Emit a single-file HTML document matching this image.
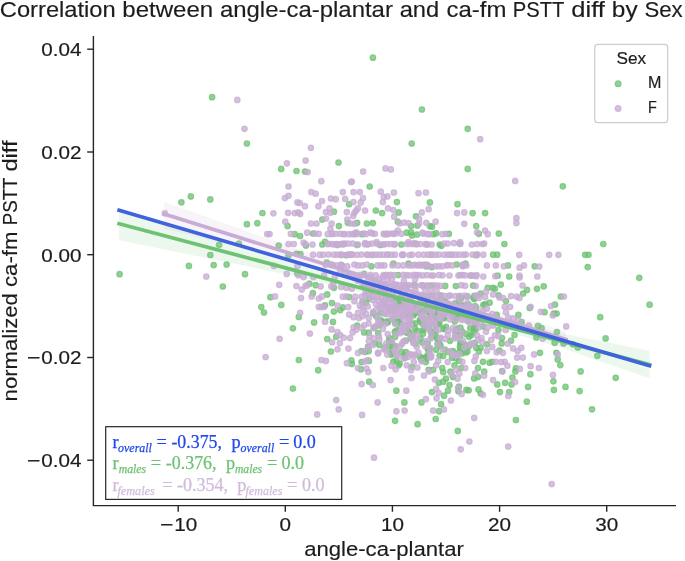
<!DOCTYPE html>
<html><head><meta charset="utf-8"><title>Correlation plot</title>
<style>html,body{margin:0;padding:0;background:#fff;}body{width:685px;height:561px;overflow:hidden;font-family:"Liberation Sans",sans-serif;}</style>
</head><body>
<svg width="685" height="561" viewBox="0 0 685 561" style="display:block;will-change:transform;transform:translateZ(0)">
<rect width="685" height="561" fill="#fff"/>
<polygon points="119.1,208.7 300,262 470,309 560,333 649.5,350.8 649.5,378.2 560,347.5 470,320.5 300,277 119.1,240.3" fill="#6ec273" fill-opacity="0.13"/>
<g fill="#6ec273" fill-opacity="0.75" stroke="#6ec273" stroke-opacity="0.75" stroke-width="1.2">
<circle cx="212.1" cy="97.2" r="2.75"/>
<circle cx="246.9" cy="143.5" r="2.75"/>
<circle cx="372.9" cy="57.7" r="2.75"/>
<circle cx="421.9" cy="109.5" r="2.75"/>
<circle cx="411.7" cy="143.5" r="2.75"/>
<circle cx="281.2" cy="168.9" r="2.75"/>
<circle cx="296.5" cy="171.0" r="2.75"/>
<circle cx="305.0" cy="171.6" r="2.75"/>
<circle cx="338.5" cy="162.5" r="2.75"/>
<circle cx="369.7" cy="186.5" r="2.75"/>
<circle cx="467.7" cy="128.8" r="2.75"/>
<circle cx="467.7" cy="168.9" r="2.75"/>
<circle cx="562.8" cy="186.3" r="2.75"/>
<circle cx="181.4" cy="202.3" r="2.75"/>
<circle cx="190.8" cy="196.4" r="2.75"/>
<circle cx="210.3" cy="199.4" r="2.75"/>
<circle cx="262.4" cy="213.0" r="2.75"/>
<circle cx="246.9" cy="224.2" r="2.75"/>
<circle cx="257.3" cy="223.2" r="2.75"/>
<circle cx="219.1" cy="244.8" r="2.75"/>
<circle cx="238.9" cy="243.5" r="2.75"/>
<circle cx="210.3" cy="255.0" r="2.75"/>
<circle cx="188.9" cy="265.9" r="2.75"/>
<circle cx="213.7" cy="265.1" r="2.75"/>
<circle cx="226.6" cy="264.6" r="2.75"/>
<circle cx="245.0" cy="274.2" r="2.75"/>
<circle cx="119.6" cy="274.2" r="2.75"/>
<circle cx="222.8" cy="286.5" r="2.75"/>
<circle cx="270.4" cy="297.2" r="2.75"/>
<circle cx="261.3" cy="307.1" r="2.75"/>
<circle cx="264.0" cy="312.5" r="2.75"/>
<circle cx="349.1" cy="204.2" r="2.75"/>
<circle cx="333.9" cy="211.7" r="2.75"/>
<circle cx="375.8" cy="210.5" r="2.75"/>
<circle cx="382.1" cy="213.1" r="2.75"/>
<circle cx="322.3" cy="219.6" r="2.75"/>
<circle cx="287.6" cy="226.1" r="2.75"/>
<circle cx="338.9" cy="226.1" r="2.75"/>
<circle cx="347.8" cy="222.8" r="2.75"/>
<circle cx="357.1" cy="222.8" r="2.75"/>
<circle cx="366.9" cy="223.5" r="2.75"/>
<circle cx="372.8" cy="223.1" r="2.75"/>
<circle cx="294.7" cy="234.2" r="2.75"/>
<circle cx="300.1" cy="236.0" r="2.75"/>
<circle cx="313.1" cy="233.5" r="2.75"/>
<circle cx="362.4" cy="234.2" r="2.75"/>
<circle cx="278.7" cy="245.6" r="2.75"/>
<circle cx="305.9" cy="245.6" r="2.75"/>
<circle cx="322.3" cy="244.5" r="2.75"/>
<circle cx="325.0" cy="241.8" r="2.75"/>
<circle cx="337.5" cy="244.9" r="2.75"/>
<circle cx="357.1" cy="244.9" r="2.75"/>
<circle cx="380.3" cy="244.9" r="2.75"/>
<circle cx="288.5" cy="255.2" r="2.75"/>
<circle cx="296.5" cy="253.8" r="2.75"/>
<circle cx="300.4" cy="254.1" r="2.75"/>
<circle cx="346.4" cy="255.2" r="2.75"/>
<circle cx="326.8" cy="262.7" r="2.75"/>
<circle cx="371.4" cy="266.3" r="2.75"/>
<circle cx="396.9" cy="202.1" r="2.75"/>
<circle cx="429.9" cy="202.4" r="2.75"/>
<circle cx="457.5" cy="204.2" r="2.75"/>
<circle cx="398.7" cy="212.4" r="2.75"/>
<circle cx="472.6" cy="213.1" r="2.75"/>
<circle cx="485.1" cy="213.1" r="2.75"/>
<circle cx="416.0" cy="216.3" r="2.75"/>
<circle cx="397.8" cy="221.7" r="2.75"/>
<circle cx="411.1" cy="226.1" r="2.75"/>
<circle cx="417.4" cy="225.6" r="2.75"/>
<circle cx="429.9" cy="226.1" r="2.75"/>
<circle cx="432.0" cy="226.7" r="2.75"/>
<circle cx="476.2" cy="226.1" r="2.75"/>
<circle cx="411.1" cy="232.4" r="2.75"/>
<circle cx="406.7" cy="232.7" r="2.75"/>
<circle cx="412.0" cy="235.6" r="2.75"/>
<circle cx="417.0" cy="234.5" r="2.75"/>
<circle cx="433.4" cy="234.2" r="2.75"/>
<circle cx="436.1" cy="233.3" r="2.75"/>
<circle cx="448.9" cy="233.8" r="2.75"/>
<circle cx="478.9" cy="233.8" r="2.75"/>
<circle cx="498.8" cy="233.6" r="2.75"/>
<circle cx="401.3" cy="244.5" r="2.75"/>
<circle cx="439.7" cy="244.5" r="2.75"/>
<circle cx="441.4" cy="245.8" r="2.75"/>
<circle cx="504.4" cy="244.0" r="2.75"/>
<circle cx="493.1" cy="254.7" r="2.75"/>
<circle cx="497.2" cy="254.7" r="2.75"/>
<circle cx="476.2" cy="255.2" r="2.75"/>
<circle cx="393.3" cy="263.6" r="2.75"/>
<circle cx="408.5" cy="263.6" r="2.75"/>
<circle cx="426.3" cy="266.3" r="2.75"/>
<circle cx="431.6" cy="267.1" r="2.75"/>
<circle cx="456.6" cy="264.5" r="2.75"/>
<circle cx="465.5" cy="263.6" r="2.75"/>
<circle cx="603.3" cy="244.0" r="2.75"/>
<circle cx="585.2" cy="254.8" r="2.75"/>
<circle cx="588.5" cy="254.8" r="2.75"/>
<circle cx="508.0" cy="265.4" r="2.75"/>
<circle cx="534.7" cy="266.3" r="2.75"/>
<circle cx="587.7" cy="267.1" r="2.75"/>
<circle cx="639.3" cy="277.8" r="2.75"/>
<circle cx="649.6" cy="304.7" r="2.75"/>
<circle cx="600.2" cy="317.2" r="2.75"/>
<circle cx="560.8" cy="296.5" r="2.75"/>
<circle cx="605.6" cy="338.4" r="2.75"/>
<circle cx="577.8" cy="347.5" r="2.75"/>
<circle cx="563.5" cy="343.4" r="2.75"/>
<circle cx="572.8" cy="344.3" r="2.75"/>
<circle cx="597.4" cy="355.8" r="2.75"/>
<circle cx="560.3" cy="365.1" r="2.75"/>
<circle cx="580.6" cy="371.4" r="2.75"/>
<circle cx="615.7" cy="377.8" r="2.75"/>
<circle cx="565.5" cy="386.9" r="2.75"/>
<circle cx="579.6" cy="391.1" r="2.75"/>
<circle cx="592.0" cy="409.3" r="2.75"/>
<circle cx="318.2" cy="370.2" r="2.75"/>
<circle cx="292.9" cy="388.5" r="2.75"/>
<circle cx="369.2" cy="381.7" r="2.75"/>
<circle cx="361.0" cy="369.3" r="2.75"/>
<circle cx="351.8" cy="363.9" r="2.75"/>
<circle cx="361.6" cy="362.1" r="2.75"/>
<circle cx="298.8" cy="360.0" r="2.75"/>
<circle cx="396.4" cy="390.7" r="2.75"/>
<circle cx="404.4" cy="402.4" r="2.75"/>
<circle cx="395.1" cy="420.8" r="2.75"/>
<circle cx="417.6" cy="424.2" r="2.75"/>
<circle cx="421.5" cy="402.4" r="2.75"/>
<circle cx="432.0" cy="392.1" r="2.75"/>
<circle cx="435.7" cy="419.0" r="2.75"/>
<circle cx="439.0" cy="411.2" r="2.75"/>
<circle cx="441.1" cy="404.2" r="2.75"/>
<circle cx="444.1" cy="395.7" r="2.75"/>
<circle cx="448.0" cy="390.7" r="2.75"/>
<circle cx="449.5" cy="385.0" r="2.75"/>
<circle cx="445.9" cy="378.7" r="2.75"/>
<circle cx="443.2" cy="381.7" r="2.75"/>
<circle cx="438.8" cy="382.8" r="2.75"/>
<circle cx="442.3" cy="368.0" r="2.75"/>
<circle cx="443.2" cy="372.1" r="2.75"/>
<circle cx="453.0" cy="376.9" r="2.75"/>
<circle cx="450.4" cy="371.6" r="2.75"/>
<circle cx="454.5" cy="365.3" r="2.75"/>
<circle cx="461.1" cy="368.0" r="2.75"/>
<circle cx="458.9" cy="386.7" r="2.75"/>
<circle cx="458.4" cy="391.2" r="2.75"/>
<circle cx="466.4" cy="389.9" r="2.75"/>
<circle cx="468.7" cy="390.3" r="2.75"/>
<circle cx="478.0" cy="368.0" r="2.75"/>
<circle cx="484.2" cy="371.6" r="2.75"/>
<circle cx="478.0" cy="376.9" r="2.75"/>
<circle cx="474.1" cy="378.4" r="2.75"/>
<circle cx="478.5" cy="389.4" r="2.75"/>
<circle cx="480.7" cy="393.5" r="2.75"/>
<circle cx="497.2" cy="384.4" r="2.75"/>
<circle cx="499.9" cy="392.1" r="2.75"/>
<circle cx="502.1" cy="371.1" r="2.75"/>
<circle cx="483.0" cy="361.8" r="2.75"/>
<circle cx="489.6" cy="362.7" r="2.75"/>
<circle cx="492.3" cy="361.8" r="2.75"/>
<circle cx="457.8" cy="430.9" r="2.75"/>
<circle cx="399.6" cy="363.6" r="2.75"/>
<circle cx="398.7" cy="365.3" r="2.75"/>
<circle cx="393.3" cy="361.8" r="2.75"/>
<circle cx="412.0" cy="367.1" r="2.75"/>
<circle cx="425.9" cy="362.1" r="2.75"/>
<circle cx="428.6" cy="369.8" r="2.75"/>
<circle cx="433.1" cy="369.8" r="2.75"/>
<circle cx="505.1" cy="382.8" r="2.75"/>
<circle cx="556.9" cy="332.1" r="2.75"/>
<circle cx="536.3" cy="337.5" r="2.75"/>
<circle cx="554.6" cy="342.8" r="2.75"/>
<circle cx="540.0" cy="352.8" r="2.75"/>
<circle cx="556.4" cy="352.8" r="2.75"/>
<circle cx="557.7" cy="359.4" r="2.75"/>
<circle cx="553.4" cy="381.3" r="2.75"/>
<circle cx="553.9" cy="389.9" r="2.75"/>
<circle cx="515.9" cy="420.0" r="2.75"/>
<circle cx="526.8" cy="401.7" r="2.75"/>
<circle cx="528.1" cy="386.9" r="2.75"/>
<circle cx="530.4" cy="374.2" r="2.75"/>
<circle cx="515.9" cy="368.3" r="2.75"/>
<circle cx="515.4" cy="371.4" r="2.75"/>
<circle cx="512.4" cy="377.6" r="2.75"/>
<circle cx="511.5" cy="384.4" r="2.75"/>
<circle cx="509.2" cy="392.0" r="2.75"/>
<circle cx="501.7" cy="343.4" r="2.75"/>
<circle cx="502.0" cy="338.0" r="2.75"/>
<circle cx="498.5" cy="330.0" r="2.75"/>
<circle cx="511.0" cy="340.7" r="2.75"/>
<circle cx="514.5" cy="335.0" r="2.75"/>
<circle cx="478.9" cy="351.4" r="2.75"/>
<circle cx="480.6" cy="347.8" r="2.75"/>
<circle cx="476.2" cy="347.8" r="2.75"/>
<circle cx="486.9" cy="344.3" r="2.75"/>
<circle cx="499.4" cy="350.5" r="2.75"/>
<circle cx="281.3" cy="304.9" r="2.75"/>
<circle cx="292.9" cy="328.3" r="2.75"/>
<circle cx="298.8" cy="316.9" r="2.75"/>
<circle cx="314.1" cy="322.4" r="2.75"/>
<circle cx="327.2" cy="339.0" r="2.75"/>
<circle cx="330.9" cy="351.5" r="2.75"/>
<circle cx="325.9" cy="316.9" r="2.75"/>
<circle cx="333.0" cy="321.9" r="2.75"/>
<circle cx="336.2" cy="336.8" r="2.75"/>
<circle cx="333.9" cy="311.5" r="2.75"/>
<circle cx="340.2" cy="310.1" r="2.75"/>
<circle cx="342.8" cy="307.4" r="2.75"/>
<circle cx="332.0" cy="303.0" r="2.75"/>
<circle cx="325.0" cy="305.3" r="2.75"/>
<circle cx="327.2" cy="294.4" r="2.75"/>
<circle cx="312.9" cy="293.2" r="2.75"/>
<circle cx="309.5" cy="283.7" r="2.75"/>
<circle cx="315.7" cy="285.2" r="2.75"/>
<circle cx="333.9" cy="287.8" r="2.75"/>
<circle cx="297.4" cy="273.6" r="2.75"/>
<circle cx="349.1" cy="297.1" r="2.75"/>
<circle cx="364.2" cy="286.0" r="2.75"/>
<circle cx="364.2" cy="273.9" r="2.75"/>
<circle cx="357.1" cy="325.6" r="2.75"/>
<circle cx="364.2" cy="332.4" r="2.75"/>
<circle cx="368.7" cy="332.7" r="2.75"/>
<circle cx="374.4" cy="327.4" r="2.75"/>
<circle cx="379.4" cy="344.9" r="2.75"/>
<circle cx="385.1" cy="347.5" r="2.75"/>
<circle cx="351.4" cy="360.4" r="2.75"/>
<circle cx="361.6" cy="351.1" r="2.75"/>
<circle cx="365.1" cy="352.0" r="2.75"/>
<circle cx="368.7" cy="351.1" r="2.75"/>
<circle cx="362.4" cy="302.1" r="2.75"/>
<circle cx="366.0" cy="303.0" r="2.75"/>
<circle cx="368.7" cy="298.5" r="2.75"/>
<circle cx="382.9" cy="321.7" r="2.75"/>
<circle cx="381.2" cy="312.8" r="2.75"/>
<circle cx="509.2" cy="276.5" r="2.75"/>
<circle cx="497.6" cy="275.7" r="2.75"/>
<circle cx="500.8" cy="284.6" r="2.75"/>
<circle cx="487.8" cy="287.8" r="2.75"/>
<circle cx="492.8" cy="287.8" r="2.75"/>
<circle cx="494.9" cy="288.7" r="2.75"/>
<circle cx="527.0" cy="289.9" r="2.75"/>
<circle cx="523.1" cy="293.5" r="2.75"/>
<circle cx="537.0" cy="288.8" r="2.75"/>
<circle cx="543.7" cy="286.3" r="2.75"/>
<circle cx="555.0" cy="304.5" r="2.75"/>
<circle cx="529.7" cy="307.9" r="2.75"/>
<circle cx="544.5" cy="312.2" r="2.75"/>
<circle cx="553.7" cy="313.6" r="2.75"/>
<circle cx="556.6" cy="313.6" r="2.75"/>
<circle cx="518.4" cy="314.9" r="2.75"/>
<circle cx="521.6" cy="322.0" r="2.75"/>
<circle cx="538.0" cy="325.9" r="2.75"/>
<circle cx="541.6" cy="328.2" r="2.75"/>
<circle cx="480.6" cy="293.5" r="2.75"/>
<circle cx="489.6" cy="302.7" r="2.75"/>
<circle cx="483.3" cy="305.1" r="2.75"/>
<circle cx="485.1" cy="304.2" r="2.75"/>
<circle cx="476.2" cy="307.4" r="2.75"/>
<circle cx="506.0" cy="301.0" r="2.75"/>
<circle cx="498.5" cy="295.3" r="2.75"/>
<circle cx="496.7" cy="314.9" r="2.75"/>
<circle cx="483.3" cy="326.5" r="2.75"/>
<circle cx="398.2" cy="275.0" r="2.75"/>
<circle cx="471.4" cy="275.6" r="2.75"/>
<circle cx="406.8" cy="285.9" r="2.75"/>
<circle cx="414.6" cy="285.0" r="2.75"/>
<circle cx="422.9" cy="285.7" r="2.75"/>
<circle cx="431.3" cy="285.6" r="2.75"/>
<circle cx="445.2" cy="285.9" r="2.75"/>
<circle cx="455.9" cy="286.0" r="2.75"/>
<circle cx="473.1" cy="285.6" r="2.75"/>
<circle cx="401.9" cy="295.5" r="2.75"/>
<circle cx="414.0" cy="295.1" r="2.75"/>
<circle cx="420.1" cy="296.2" r="2.75"/>
<circle cx="430.7" cy="295.8" r="2.75"/>
<circle cx="440.5" cy="295.4" r="2.75"/>
<circle cx="459.2" cy="296.6" r="2.75"/>
<circle cx="467.3" cy="296.6" r="2.75"/>
<circle cx="474.3" cy="295.9" r="2.75"/>
<circle cx="405.0" cy="306.1" r="2.75"/>
<circle cx="409.4" cy="306.0" r="2.75"/>
<circle cx="416.1" cy="305.7" r="2.75"/>
<circle cx="427.6" cy="306.8" r="2.75"/>
<circle cx="449.5" cy="307.1" r="2.75"/>
<circle cx="458.6" cy="305.7" r="2.75"/>
<circle cx="464.4" cy="305.7" r="2.75"/>
<circle cx="475.0" cy="306.1" r="2.75"/>
<circle cx="425.4" cy="296.3" r="2.75"/>
<circle cx="406.7" cy="329.5" r="2.75"/>
<circle cx="391.1" cy="342.2" r="2.75"/>
<circle cx="470.3" cy="328.2" r="2.75"/>
<circle cx="417.3" cy="330.9" r="2.75"/>
<circle cx="471.9" cy="310.5" r="2.75"/>
<circle cx="423.1" cy="330.0" r="2.75"/>
<circle cx="413.6" cy="314.2" r="2.75"/>
<circle cx="401.7" cy="304.9" r="2.75"/>
<circle cx="458.6" cy="305.6" r="2.75"/>
<circle cx="468.2" cy="321.3" r="2.75"/>
<circle cx="456.0" cy="330.2" r="2.75"/>
<circle cx="468.7" cy="346.5" r="2.75"/>
<circle cx="452.9" cy="351.1" r="2.75"/>
<circle cx="396.6" cy="330.5" r="2.75"/>
<circle cx="405.1" cy="328.8" r="2.75"/>
<circle cx="461.5" cy="353.5" r="2.75"/>
<circle cx="431.2" cy="313.3" r="2.75"/>
<circle cx="428.7" cy="312.3" r="2.75"/>
<circle cx="405.2" cy="357.8" r="2.75"/>
<circle cx="389.2" cy="338.1" r="2.75"/>
<circle cx="425.3" cy="358.1" r="2.75"/>
<circle cx="387.7" cy="322.4" r="2.75"/>
<circle cx="456.0" cy="335.6" r="2.75"/>
<circle cx="432.3" cy="309.1" r="2.75"/>
<circle cx="408.6" cy="331.6" r="2.75"/>
<circle cx="409.6" cy="316.2" r="2.75"/>
<circle cx="424.2" cy="296.8" r="2.75"/>
<circle cx="458.7" cy="311.5" r="2.75"/>
<circle cx="387.9" cy="346.2" r="2.75"/>
<circle cx="442.9" cy="303.1" r="2.75"/>
<circle cx="470.9" cy="344.0" r="2.75"/>
<circle cx="393.1" cy="318.9" r="2.75"/>
<circle cx="415.7" cy="344.0" r="2.75"/>
<circle cx="446.0" cy="326.9" r="2.75"/>
<circle cx="439.6" cy="355.5" r="2.75"/>
<circle cx="424.2" cy="328.4" r="2.75"/>
<circle cx="422.5" cy="323.2" r="2.75"/>
<circle cx="460.1" cy="335.5" r="2.75"/>
<circle cx="407.5" cy="325.8" r="2.75"/>
<circle cx="387.6" cy="321.4" r="2.75"/>
<circle cx="457.2" cy="328.5" r="2.75"/>
<circle cx="422.9" cy="333.8" r="2.75"/>
<circle cx="455.8" cy="358.3" r="2.75"/>
<circle cx="404.3" cy="355.2" r="2.75"/>
<circle cx="466.0" cy="346.3" r="2.75"/>
<circle cx="475.8" cy="329.6" r="2.75"/>
<circle cx="436.7" cy="321.3" r="2.75"/>
<circle cx="425.3" cy="318.8" r="2.75"/>
<circle cx="435.6" cy="330.1" r="2.75"/>
<circle cx="397.8" cy="322.1" r="2.75"/>
<circle cx="411.8" cy="324.6" r="2.75"/>
<circle cx="475.5" cy="318.3" r="2.75"/>
<circle cx="453.0" cy="307.1" r="2.75"/>
<circle cx="403.6" cy="306.2" r="2.75"/>
<circle cx="415.0" cy="328.8" r="2.75"/>
<circle cx="389.3" cy="340.9" r="2.75"/>
<circle cx="434.5" cy="308.8" r="2.75"/>
<circle cx="420.2" cy="313.3" r="2.75"/>
<circle cx="402.4" cy="303.9" r="2.75"/>
<circle cx="445.9" cy="302.9" r="2.75"/>
<circle cx="427.6" cy="348.4" r="2.75"/>
<circle cx="440.4" cy="319.0" r="2.75"/>
<circle cx="423.8" cy="318.7" r="2.75"/>
<circle cx="423.8" cy="358.4" r="2.75"/>
<circle cx="428.5" cy="312.2" r="2.75"/>
<circle cx="467.4" cy="351.6" r="2.75"/>
<circle cx="463.4" cy="349.0" r="2.75"/>
<circle cx="426.3" cy="358.4" r="2.75"/>
<circle cx="469.7" cy="311.8" r="2.75"/>
<circle cx="440.8" cy="310.4" r="2.75"/>
<circle cx="460.4" cy="327.5" r="2.75"/>
<circle cx="421.2" cy="303.5" r="2.75"/>
<circle cx="399.2" cy="322.2" r="2.75"/>
<circle cx="451.6" cy="306.3" r="2.75"/>
<circle cx="379.4" cy="325.4" r="2.75"/>
<circle cx="439.3" cy="312.9" r="2.75"/>
<circle cx="424.4" cy="319.9" r="2.75"/>
<circle cx="427.0" cy="309.8" r="2.75"/>
<circle cx="433.2" cy="332.9" r="2.75"/>
<circle cx="399.7" cy="301.6" r="2.75"/>
<circle cx="457.4" cy="316.9" r="2.75"/>
<circle cx="413.5" cy="315.3" r="2.75"/>
<circle cx="389.9" cy="310.7" r="2.75"/>
<circle cx="440.6" cy="314.4" r="2.75"/>
<circle cx="458.7" cy="304.6" r="2.75"/>
<circle cx="394.9" cy="322.8" r="2.75"/>
<circle cx="438.4" cy="312.1" r="2.75"/>
<circle cx="395.0" cy="336.9" r="2.75"/>
<circle cx="440.1" cy="298.6" r="2.75"/>
<circle cx="398.6" cy="298.6" r="2.75"/>
<circle cx="430.8" cy="307.7" r="2.75"/>
<circle cx="422.3" cy="342.6" r="2.75"/>
<circle cx="405.4" cy="340.5" r="2.75"/>
<circle cx="426.9" cy="299.1" r="2.75"/>
<circle cx="465.3" cy="344.7" r="2.75"/>
<circle cx="437.8" cy="321.6" r="2.75"/>
<circle cx="454.6" cy="314.3" r="2.75"/>
<circle cx="437.5" cy="344.0" r="2.75"/>
<circle cx="429.5" cy="325.4" r="2.75"/>
<circle cx="438.3" cy="323.8" r="2.75"/>
<circle cx="430.7" cy="331.4" r="2.75"/>
<circle cx="376.2" cy="316.2" r="2.75"/>
<circle cx="439.4" cy="339.6" r="2.75"/>
<circle cx="468.0" cy="318.8" r="2.75"/>
<circle cx="461.6" cy="305.2" r="2.75"/>
<circle cx="392.7" cy="349.0" r="2.75"/>
<circle cx="446.1" cy="307.0" r="2.75"/>
<circle cx="425.8" cy="326.0" r="2.75"/>
<circle cx="454.9" cy="303.4" r="2.75"/>
<circle cx="396.1" cy="309.4" r="2.75"/>
<circle cx="407.0" cy="303.3" r="2.75"/>
<circle cx="409.6" cy="319.6" r="2.75"/>
<circle cx="473.5" cy="332.6" r="2.75"/>
<circle cx="412.1" cy="324.2" r="2.75"/>
<circle cx="431.6" cy="336.8" r="2.75"/>
<circle cx="432.6" cy="312.3" r="2.75"/>
<circle cx="455.9" cy="315.3" r="2.75"/>
<circle cx="443.8" cy="317.2" r="2.75"/>
<circle cx="454.2" cy="316.8" r="2.75"/>
<circle cx="419.9" cy="320.0" r="2.75"/>
<circle cx="429.5" cy="349.3" r="2.75"/>
<circle cx="413.4" cy="306.2" r="2.75"/>
<circle cx="423.6" cy="301.2" r="2.75"/>
<circle cx="374.9" cy="343.0" r="2.75"/>
<circle cx="404.2" cy="314.4" r="2.75"/>
<circle cx="415.3" cy="323.4" r="2.75"/>
<circle cx="464.0" cy="306.7" r="2.75"/>
<circle cx="406.4" cy="332.6" r="2.75"/>
<circle cx="428.5" cy="348.7" r="2.75"/>
<circle cx="435.6" cy="335.6" r="2.75"/>
<circle cx="422.4" cy="357.9" r="2.75"/>
<circle cx="431.9" cy="315.5" r="2.75"/>
<circle cx="461.6" cy="297.8" r="2.75"/>
<circle cx="435.8" cy="325.1" r="2.75"/>
<circle cx="433.6" cy="320.2" r="2.75"/>
<circle cx="403.0" cy="330.4" r="2.75"/>
<circle cx="400.5" cy="303.4" r="2.75"/>
<circle cx="462.2" cy="331.6" r="2.75"/>
<circle cx="458.8" cy="312.5" r="2.75"/>
<circle cx="417.3" cy="312.4" r="2.75"/>
<circle cx="420.3" cy="310.7" r="2.75"/>
<circle cx="405.9" cy="352.1" r="2.75"/>
<circle cx="440.3" cy="345.2" r="2.75"/>
<circle cx="474.8" cy="342.9" r="2.75"/>
<circle cx="454.8" cy="321.5" r="2.75"/>
<circle cx="368.1" cy="346.5" r="2.75"/>
<circle cx="380.6" cy="320.2" r="2.75"/>
<circle cx="425.3" cy="309.9" r="2.75"/>
<circle cx="439.4" cy="323.7" r="2.75"/>
<circle cx="428.6" cy="352.7" r="2.75"/>
<circle cx="465.7" cy="352.6" r="2.75"/>
<circle cx="444.2" cy="318.2" r="2.75"/>
<circle cx="436.1" cy="349.7" r="2.75"/>
<circle cx="441.2" cy="298.8" r="2.75"/>
<circle cx="455.8" cy="333.8" r="2.75"/>
<circle cx="436.9" cy="320.8" r="2.75"/>
<circle cx="460.4" cy="331.0" r="2.75"/>
<circle cx="452.0" cy="357.7" r="2.75"/>
<circle cx="393.8" cy="305.8" r="2.75"/>
<circle cx="460.1" cy="348.0" r="2.75"/>
<circle cx="400.1" cy="326.9" r="2.75"/>
<circle cx="427.4" cy="300.9" r="2.75"/>
<circle cx="409.5" cy="333.5" r="2.75"/>
<circle cx="392.7" cy="297.3" r="2.75"/>
<circle cx="474.3" cy="298.9" r="2.75"/>
<circle cx="434.9" cy="313.7" r="2.75"/>
<circle cx="413.5" cy="313.0" r="2.75"/>
<circle cx="460.0" cy="346.3" r="2.75"/>
<circle cx="430.3" cy="319.6" r="2.75"/>
<circle cx="436.2" cy="315.8" r="2.75"/>
<circle cx="443.4" cy="329.1" r="2.75"/>
<circle cx="394.8" cy="331.8" r="2.75"/>
<circle cx="474.6" cy="327.3" r="2.75"/>
<circle cx="407.6" cy="325.0" r="2.75"/>
<circle cx="388.8" cy="307.0" r="2.75"/>
<circle cx="419.9" cy="356.9" r="2.75"/>
<circle cx="466.2" cy="333.9" r="2.75"/>
<circle cx="395.6" cy="346.3" r="2.75"/>
<circle cx="459.5" cy="300.4" r="2.75"/>
<circle cx="463.4" cy="313.9" r="2.75"/>
<circle cx="439.0" cy="310.2" r="2.75"/>
<circle cx="432.0" cy="308.8" r="2.75"/>
<circle cx="471.4" cy="335.1" r="2.75"/>
<circle cx="452.2" cy="352.9" r="2.75"/>
<circle cx="432.1" cy="322.3" r="2.75"/>
<circle cx="393.2" cy="299.7" r="2.75"/>
<circle cx="412.8" cy="334.9" r="2.75"/>
<circle cx="421.5" cy="360.2" r="2.75"/>
<circle cx="427.7" cy="343.1" r="2.75"/>
<circle cx="403.9" cy="331.0" r="2.75"/>
<circle cx="420.4" cy="338.7" r="2.75"/>
<circle cx="392.4" cy="344.2" r="2.75"/>
<circle cx="439.9" cy="345.6" r="2.75"/>
<circle cx="407.6" cy="314.1" r="2.75"/>
<circle cx="468.6" cy="304.6" r="2.75"/>
<circle cx="410.5" cy="338.6" r="2.75"/>
<circle cx="396.3" cy="360.3" r="2.75"/>
<circle cx="445.6" cy="301.8" r="2.75"/>
<circle cx="396.7" cy="305.7" r="2.75"/>
<circle cx="443.2" cy="355.9" r="2.75"/>
<circle cx="473.8" cy="328.4" r="2.75"/>
<circle cx="394.0" cy="348.0" r="2.75"/>
<circle cx="391.5" cy="354.7" r="2.75"/>
<circle cx="442.7" cy="300.3" r="2.75"/>
<circle cx="401.2" cy="352.2" r="2.75"/>
<circle cx="421.5" cy="322.6" r="2.75"/>
<circle cx="469.1" cy="336.8" r="2.75"/>
<circle cx="378.1" cy="333.0" r="2.75"/>
<circle cx="458.9" cy="352.5" r="2.75"/>
<circle cx="444.9" cy="349.5" r="2.75"/>
<circle cx="448.5" cy="352.1" r="2.75"/>
<circle cx="459.0" cy="360.7" r="2.75"/>
<circle cx="443.0" cy="302.3" r="2.75"/>
<circle cx="436.3" cy="301.9" r="2.75"/>
<circle cx="473.5" cy="298.1" r="2.75"/>
<circle cx="450.0" cy="340.8" r="2.75"/>
<circle cx="414.1" cy="311.1" r="2.75"/>
<circle cx="390.6" cy="353.1" r="2.75"/>
<circle cx="411.9" cy="304.8" r="2.75"/>
<circle cx="443.3" cy="328.5" r="2.75"/>
<circle cx="461.4" cy="343.5" r="2.75"/>
<circle cx="373.2" cy="313.2" r="2.75"/>
<circle cx="420.6" cy="319.6" r="2.75"/>
<circle cx="437.0" cy="338.5" r="2.75"/>
<circle cx="460.3" cy="342.7" r="2.75"/>
<circle cx="399.4" cy="321.1" r="2.75"/>
<circle cx="368.9" cy="360.9" r="2.75"/>
<circle cx="427.0" cy="356.2" r="2.75"/>
<circle cx="427.4" cy="320.5" r="2.75"/>
</g>
<polygon points="164.3,202 300,250 420,289 566,331 566,346 420,297 300,262 164.3,228.8" fill="#c7acd3" fill-opacity="0.13"/>
<g fill="#c7acd3" fill-opacity="0.75" stroke="#c7acd3" stroke-opacity="0.75" stroke-width="1.2">
<circle cx="237.3" cy="99.9" r="2.75"/>
<circle cx="244.5" cy="128.8" r="2.75"/>
<circle cx="310.9" cy="147.8" r="2.75"/>
<circle cx="286.9" cy="163.3" r="2.75"/>
<circle cx="305.6" cy="160.6" r="2.75"/>
<circle cx="307.7" cy="172.1" r="2.75"/>
<circle cx="363.1" cy="171.6" r="2.75"/>
<circle cx="385.5" cy="168.4" r="2.75"/>
<circle cx="390.9" cy="169.4" r="2.75"/>
<circle cx="321.3" cy="181.2" r="2.75"/>
<circle cx="351.8" cy="181.5" r="2.75"/>
<circle cx="351.0" cy="182.0" r="2.75"/>
<circle cx="288.5" cy="186.5" r="2.75"/>
<circle cx="480.2" cy="139.2" r="2.75"/>
<circle cx="515.2" cy="180.9" r="2.75"/>
<circle cx="164.8" cy="213.3" r="2.75"/>
<circle cx="273.4" cy="213.3" r="2.75"/>
<circle cx="267.2" cy="234.1" r="2.75"/>
<circle cx="269.6" cy="234.1" r="2.75"/>
<circle cx="206.3" cy="276.6" r="2.75"/>
<circle cx="273.9" cy="265.9" r="2.75"/>
<circle cx="275.0" cy="296.4" r="2.75"/>
<circle cx="265.6" cy="357.0" r="2.75"/>
<circle cx="311.3" cy="192.1" r="2.75"/>
<circle cx="315.6" cy="193.7" r="2.75"/>
<circle cx="342.8" cy="192.1" r="2.75"/>
<circle cx="353.5" cy="192.1" r="2.75"/>
<circle cx="359.8" cy="192.1" r="2.75"/>
<circle cx="380.8" cy="191.7" r="2.75"/>
<circle cx="288.5" cy="195.8" r="2.75"/>
<circle cx="284.9" cy="198.0" r="2.75"/>
<circle cx="330.9" cy="198.5" r="2.75"/>
<circle cx="335.7" cy="199.2" r="2.75"/>
<circle cx="345.2" cy="198.9" r="2.75"/>
<circle cx="363.0" cy="198.2" r="2.75"/>
<circle cx="383.8" cy="197.1" r="2.75"/>
<circle cx="322.0" cy="201.0" r="2.75"/>
<circle cx="353.5" cy="202.1" r="2.75"/>
<circle cx="360.7" cy="202.4" r="2.75"/>
<circle cx="382.9" cy="202.1" r="2.75"/>
<circle cx="297.4" cy="202.4" r="2.75"/>
<circle cx="299.7" cy="203.0" r="2.75"/>
<circle cx="304.9" cy="206.2" r="2.75"/>
<circle cx="318.4" cy="206.2" r="2.75"/>
<circle cx="329.5" cy="208.3" r="2.75"/>
<circle cx="358.0" cy="208.3" r="2.75"/>
<circle cx="356.2" cy="210.6" r="2.75"/>
<circle cx="365.1" cy="210.6" r="2.75"/>
<circle cx="325.9" cy="212.1" r="2.75"/>
<circle cx="330.4" cy="212.8" r="2.75"/>
<circle cx="346.8" cy="212.1" r="2.75"/>
<circle cx="354.4" cy="212.8" r="2.75"/>
<circle cx="288.1" cy="212.8" r="2.75"/>
<circle cx="294.7" cy="213.1" r="2.75"/>
<circle cx="298.3" cy="212.4" r="2.75"/>
<circle cx="300.2" cy="213.9" r="2.75"/>
<circle cx="353.2" cy="216.0" r="2.75"/>
<circle cx="325.9" cy="218.5" r="2.75"/>
<circle cx="347.3" cy="219.6" r="2.75"/>
<circle cx="285.3" cy="221.7" r="2.75"/>
<circle cx="310.9" cy="223.5" r="2.75"/>
<circle cx="316.5" cy="223.5" r="2.75"/>
<circle cx="331.6" cy="223.5" r="2.75"/>
<circle cx="350.9" cy="223.5" r="2.75"/>
<circle cx="354.4" cy="223.8" r="2.75"/>
<circle cx="330.4" cy="228.8" r="2.75"/>
<circle cx="290.8" cy="233.8" r="2.75"/>
<circle cx="307.2" cy="232.7" r="2.75"/>
<circle cx="314.9" cy="233.5" r="2.75"/>
<circle cx="318.8" cy="233.8" r="2.75"/>
<circle cx="327.7" cy="234.2" r="2.75"/>
<circle cx="332.1" cy="233.8" r="2.75"/>
<circle cx="335.7" cy="233.8" r="2.75"/>
<circle cx="340.2" cy="233.8" r="2.75"/>
<circle cx="344.6" cy="234.2" r="2.75"/>
<circle cx="349.1" cy="234.2" r="2.75"/>
<circle cx="356.2" cy="232.4" r="2.75"/>
<circle cx="358.0" cy="233.8" r="2.75"/>
<circle cx="364.2" cy="233.5" r="2.75"/>
<circle cx="370.5" cy="232.4" r="2.75"/>
<circle cx="372.3" cy="233.5" r="2.75"/>
<circle cx="374.9" cy="233.8" r="2.75"/>
<circle cx="384.4" cy="234.2" r="2.75"/>
<circle cx="288.5" cy="244.0" r="2.75"/>
<circle cx="293.8" cy="244.0" r="2.75"/>
<circle cx="303.6" cy="242.7" r="2.75"/>
<circle cx="305.4" cy="244.0" r="2.75"/>
<circle cx="312.5" cy="244.5" r="2.75"/>
<circle cx="327.7" cy="244.0" r="2.75"/>
<circle cx="332.1" cy="244.0" r="2.75"/>
<circle cx="336.6" cy="244.0" r="2.75"/>
<circle cx="341.1" cy="244.0" r="2.75"/>
<circle cx="344.6" cy="243.6" r="2.75"/>
<circle cx="348.2" cy="243.6" r="2.75"/>
<circle cx="352.6" cy="243.6" r="2.75"/>
<circle cx="358.0" cy="244.5" r="2.75"/>
<circle cx="365.1" cy="243.1" r="2.75"/>
<circle cx="372.3" cy="243.6" r="2.75"/>
<circle cx="376.7" cy="242.2" r="2.75"/>
<circle cx="377.6" cy="244.0" r="2.75"/>
<circle cx="382.9" cy="244.5" r="2.75"/>
<circle cx="313.1" cy="254.7" r="2.75"/>
<circle cx="319.7" cy="254.7" r="2.75"/>
<circle cx="323.2" cy="254.7" r="2.75"/>
<circle cx="333.9" cy="254.7" r="2.75"/>
<circle cx="337.5" cy="254.7" r="2.75"/>
<circle cx="341.1" cy="254.7" r="2.75"/>
<circle cx="349.1" cy="254.7" r="2.75"/>
<circle cx="352.6" cy="254.7" r="2.75"/>
<circle cx="366.9" cy="254.7" r="2.75"/>
<circle cx="372.3" cy="254.7" r="2.75"/>
<circle cx="375.8" cy="254.7" r="2.75"/>
<circle cx="379.4" cy="254.7" r="2.75"/>
<circle cx="382.9" cy="254.7" r="2.75"/>
<circle cx="297.4" cy="266.3" r="2.75"/>
<circle cx="331.3" cy="264.5" r="2.75"/>
<circle cx="336.6" cy="265.4" r="2.75"/>
<circle cx="341.9" cy="265.4" r="2.75"/>
<circle cx="347.3" cy="266.3" r="2.75"/>
<circle cx="354.4" cy="264.5" r="2.75"/>
<circle cx="358.0" cy="265.4" r="2.75"/>
<circle cx="362.4" cy="265.4" r="2.75"/>
<circle cx="366.9" cy="264.5" r="2.75"/>
<circle cx="377.6" cy="265.4" r="2.75"/>
<circle cx="381.2" cy="265.4" r="2.75"/>
<circle cx="384.4" cy="265.4" r="2.75"/>
<circle cx="393.9" cy="192.5" r="2.75"/>
<circle cx="387.4" cy="196.4" r="2.75"/>
<circle cx="418.5" cy="193.2" r="2.75"/>
<circle cx="425.9" cy="192.5" r="2.75"/>
<circle cx="388.0" cy="208.3" r="2.75"/>
<circle cx="393.3" cy="210.1" r="2.75"/>
<circle cx="428.6" cy="209.2" r="2.75"/>
<circle cx="421.8" cy="212.4" r="2.75"/>
<circle cx="394.2" cy="216.7" r="2.75"/>
<circle cx="457.1" cy="213.1" r="2.75"/>
<circle cx="464.3" cy="212.4" r="2.75"/>
<circle cx="419.2" cy="219.0" r="2.75"/>
<circle cx="435.6" cy="221.7" r="2.75"/>
<circle cx="426.3" cy="222.8" r="2.75"/>
<circle cx="419.2" cy="223.5" r="2.75"/>
<circle cx="404.0" cy="222.6" r="2.75"/>
<circle cx="408.5" cy="223.1" r="2.75"/>
<circle cx="399.6" cy="223.5" r="2.75"/>
<circle cx="464.3" cy="223.8" r="2.75"/>
<circle cx="485.1" cy="230.6" r="2.75"/>
<circle cx="487.8" cy="234.2" r="2.75"/>
<circle cx="477.1" cy="232.4" r="2.75"/>
<circle cx="388.0" cy="233.8" r="2.75"/>
<circle cx="396.0" cy="233.3" r="2.75"/>
<circle cx="397.8" cy="230.6" r="2.75"/>
<circle cx="401.3" cy="233.8" r="2.75"/>
<circle cx="422.4" cy="232.7" r="2.75"/>
<circle cx="429.0" cy="234.2" r="2.75"/>
<circle cx="442.3" cy="234.2" r="2.75"/>
<circle cx="445.9" cy="233.8" r="2.75"/>
<circle cx="387.1" cy="244.0" r="2.75"/>
<circle cx="390.6" cy="244.0" r="2.75"/>
<circle cx="394.2" cy="244.5" r="2.75"/>
<circle cx="406.7" cy="244.0" r="2.75"/>
<circle cx="408.5" cy="242.2" r="2.75"/>
<circle cx="414.7" cy="243.1" r="2.75"/>
<circle cx="420.1" cy="244.0" r="2.75"/>
<circle cx="427.2" cy="244.5" r="2.75"/>
<circle cx="431.6" cy="244.5" r="2.75"/>
<circle cx="444.1" cy="243.6" r="2.75"/>
<circle cx="447.7" cy="243.6" r="2.75"/>
<circle cx="453.9" cy="243.1" r="2.75"/>
<circle cx="459.3" cy="243.6" r="2.75"/>
<circle cx="460.2" cy="242.2" r="2.75"/>
<circle cx="471.8" cy="244.5" r="2.75"/>
<circle cx="477.1" cy="244.0" r="2.75"/>
<circle cx="482.4" cy="244.0" r="2.75"/>
<circle cx="484.2" cy="243.6" r="2.75"/>
<circle cx="387.1" cy="254.7" r="2.75"/>
<circle cx="391.5" cy="254.7" r="2.75"/>
<circle cx="395.1" cy="254.7" r="2.75"/>
<circle cx="402.2" cy="254.7" r="2.75"/>
<circle cx="412.0" cy="254.7" r="2.75"/>
<circle cx="418.3" cy="254.7" r="2.75"/>
<circle cx="423.6" cy="254.7" r="2.75"/>
<circle cx="428.1" cy="254.7" r="2.75"/>
<circle cx="431.6" cy="254.7" r="2.75"/>
<circle cx="435.2" cy="254.7" r="2.75"/>
<circle cx="438.8" cy="254.7" r="2.75"/>
<circle cx="444.1" cy="254.7" r="2.75"/>
<circle cx="447.7" cy="254.7" r="2.75"/>
<circle cx="452.1" cy="254.7" r="2.75"/>
<circle cx="455.7" cy="254.7" r="2.75"/>
<circle cx="459.3" cy="254.7" r="2.75"/>
<circle cx="463.7" cy="254.7" r="2.75"/>
<circle cx="472.6" cy="254.7" r="2.75"/>
<circle cx="477.1" cy="254.7" r="2.75"/>
<circle cx="483.3" cy="254.7" r="2.75"/>
<circle cx="392.4" cy="265.4" r="2.75"/>
<circle cx="397.8" cy="265.4" r="2.75"/>
<circle cx="403.1" cy="265.4" r="2.75"/>
<circle cx="408.5" cy="265.4" r="2.75"/>
<circle cx="412.0" cy="265.4" r="2.75"/>
<circle cx="417.4" cy="265.4" r="2.75"/>
<circle cx="421.0" cy="265.4" r="2.75"/>
<circle cx="429.0" cy="266.3" r="2.75"/>
<circle cx="435.2" cy="266.3" r="2.75"/>
<circle cx="438.8" cy="266.3" r="2.75"/>
<circle cx="442.3" cy="266.3" r="2.75"/>
<circle cx="446.8" cy="265.4" r="2.75"/>
<circle cx="452.1" cy="265.4" r="2.75"/>
<circle cx="462.8" cy="266.3" r="2.75"/>
<circle cx="466.4" cy="265.4" r="2.75"/>
<circle cx="486.9" cy="265.4" r="2.75"/>
<circle cx="495.8" cy="265.4" r="2.75"/>
<circle cx="503.8" cy="266.3" r="2.75"/>
<circle cx="516.4" cy="218.1" r="2.75"/>
<circle cx="516.4" cy="222.9" r="2.75"/>
<circle cx="519.2" cy="254.8" r="2.75"/>
<circle cx="549.2" cy="254.8" r="2.75"/>
<circle cx="558.4" cy="254.8" r="2.75"/>
<circle cx="524.0" cy="265.4" r="2.75"/>
<circle cx="519.6" cy="267.7" r="2.75"/>
<circle cx="539.2" cy="266.6" r="2.75"/>
<circle cx="563.9" cy="296.5" r="2.75"/>
<circle cx="566.2" cy="326.4" r="2.75"/>
<circle cx="325.9" cy="360.9" r="2.75"/>
<circle cx="321.4" cy="360.0" r="2.75"/>
<circle cx="346.9" cy="363.2" r="2.75"/>
<circle cx="358.0" cy="368.0" r="2.75"/>
<circle cx="366.5" cy="368.6" r="2.75"/>
<circle cx="368.3" cy="372.1" r="2.75"/>
<circle cx="383.3" cy="368.0" r="2.75"/>
<circle cx="364.8" cy="361.4" r="2.75"/>
<circle cx="367.8" cy="360.0" r="2.75"/>
<circle cx="361.6" cy="384.1" r="2.75"/>
<circle cx="372.8" cy="385.0" r="2.75"/>
<circle cx="336.2" cy="400.1" r="2.75"/>
<circle cx="338.7" cy="409.4" r="2.75"/>
<circle cx="317.2" cy="414.4" r="2.75"/>
<circle cx="362.1" cy="414.9" r="2.75"/>
<circle cx="377.6" cy="402.4" r="2.75"/>
<circle cx="374.0" cy="457.7" r="2.75"/>
<circle cx="390.6" cy="380.1" r="2.75"/>
<circle cx="406.3" cy="390.7" r="2.75"/>
<circle cx="396.4" cy="411.3" r="2.75"/>
<circle cx="404.6" cy="410.6" r="2.75"/>
<circle cx="411.5" cy="378.0" r="2.75"/>
<circle cx="395.6" cy="369.3" r="2.75"/>
<circle cx="391.5" cy="365.7" r="2.75"/>
<circle cx="406.7" cy="365.3" r="2.75"/>
<circle cx="411.1" cy="370.3" r="2.75"/>
<circle cx="417.4" cy="367.5" r="2.75"/>
<circle cx="413.8" cy="362.1" r="2.75"/>
<circle cx="421.8" cy="361.4" r="2.75"/>
<circle cx="424.0" cy="375.5" r="2.75"/>
<circle cx="429.0" cy="371.6" r="2.75"/>
<circle cx="434.9" cy="379.6" r="2.75"/>
<circle cx="436.1" cy="365.3" r="2.75"/>
<circle cx="438.2" cy="360.9" r="2.75"/>
<circle cx="436.1" cy="388.9" r="2.75"/>
<circle cx="438.8" cy="393.0" r="2.75"/>
<circle cx="425.9" cy="399.2" r="2.75"/>
<circle cx="436.5" cy="398.3" r="2.75"/>
<circle cx="433.1" cy="410.6" r="2.75"/>
<circle cx="443.9" cy="409.4" r="2.75"/>
<circle cx="450.9" cy="400.5" r="2.75"/>
<circle cx="451.6" cy="374.3" r="2.75"/>
<circle cx="455.7" cy="369.8" r="2.75"/>
<circle cx="459.3" cy="373.4" r="2.75"/>
<circle cx="457.5" cy="378.7" r="2.75"/>
<circle cx="458.0" cy="388.2" r="2.75"/>
<circle cx="461.6" cy="393.9" r="2.75"/>
<circle cx="465.2" cy="368.0" r="2.75"/>
<circle cx="462.3" cy="361.8" r="2.75"/>
<circle cx="447.7" cy="362.1" r="2.75"/>
<circle cx="474.4" cy="360.9" r="2.75"/>
<circle cx="475.3" cy="373.4" r="2.75"/>
<circle cx="484.2" cy="375.7" r="2.75"/>
<circle cx="493.1" cy="380.1" r="2.75"/>
<circle cx="483.0" cy="394.8" r="2.75"/>
<circle cx="474.2" cy="417.9" r="2.75"/>
<circle cx="469.4" cy="441.5" r="2.75"/>
<circle cx="460.7" cy="449.3" r="2.75"/>
<circle cx="502.4" cy="371.6" r="2.75"/>
<circle cx="495.8" cy="361.8" r="2.75"/>
<circle cx="501.2" cy="362.1" r="2.75"/>
<circle cx="504.7" cy="361.8" r="2.75"/>
<circle cx="542.7" cy="338.6" r="2.75"/>
<circle cx="534.1" cy="354.4" r="2.75"/>
<circle cx="557.7" cy="354.4" r="2.75"/>
<circle cx="517.2" cy="357.6" r="2.75"/>
<circle cx="522.9" cy="357.6" r="2.75"/>
<circle cx="530.6" cy="366.2" r="2.75"/>
<circle cx="538.9" cy="368.0" r="2.75"/>
<circle cx="519.9" cy="368.9" r="2.75"/>
<circle cx="553.0" cy="374.9" r="2.75"/>
<circle cx="515.1" cy="382.0" r="2.75"/>
<circle cx="508.3" cy="396.0" r="2.75"/>
<circle cx="507.4" cy="365.7" r="2.75"/>
<circle cx="496.7" cy="352.3" r="2.75"/>
<circle cx="502.9" cy="352.8" r="2.75"/>
<circle cx="517.7" cy="350.9" r="2.75"/>
<circle cx="521.3" cy="347.8" r="2.75"/>
<circle cx="513.1" cy="348.4" r="2.75"/>
<circle cx="507.9" cy="343.7" r="2.75"/>
<circle cx="492.2" cy="346.9" r="2.75"/>
<circle cx="486.9" cy="351.0" r="2.75"/>
<circle cx="498.5" cy="336.2" r="2.75"/>
<circle cx="491.3" cy="339.8" r="2.75"/>
<circle cx="494.9" cy="335.3" r="2.75"/>
<circle cx="481.5" cy="338.0" r="2.75"/>
<circle cx="482.4" cy="342.5" r="2.75"/>
<circle cx="477.1" cy="335.3" r="2.75"/>
<circle cx="478.0" cy="339.8" r="2.75"/>
<circle cx="486.0" cy="331.8" r="2.75"/>
<circle cx="505.6" cy="330.0" r="2.75"/>
<circle cx="286.7" cy="273.9" r="2.75"/>
<circle cx="279.2" cy="284.8" r="2.75"/>
<circle cx="296.5" cy="286.0" r="2.75"/>
<circle cx="303.6" cy="277.1" r="2.75"/>
<circle cx="298.3" cy="275.3" r="2.75"/>
<circle cx="301.8" cy="289.6" r="2.75"/>
<circle cx="305.4" cy="286.0" r="2.75"/>
<circle cx="307.2" cy="285.2" r="2.75"/>
<circle cx="301.0" cy="298.0" r="2.75"/>
<circle cx="300.1" cy="312.8" r="2.75"/>
<circle cx="309.9" cy="333.6" r="2.75"/>
<circle cx="279.6" cy="338.8" r="2.75"/>
<circle cx="320.6" cy="286.4" r="2.75"/>
<circle cx="313.4" cy="277.1" r="2.75"/>
<circle cx="311.6" cy="296.4" r="2.75"/>
<circle cx="318.8" cy="298.5" r="2.75"/>
<circle cx="322.0" cy="296.4" r="2.75"/>
<circle cx="318.8" cy="306.9" r="2.75"/>
<circle cx="321.4" cy="306.9" r="2.75"/>
<circle cx="324.1" cy="306.9" r="2.75"/>
<circle cx="325.0" cy="321.7" r="2.75"/>
<circle cx="331.6" cy="329.4" r="2.75"/>
<circle cx="337.5" cy="332.0" r="2.75"/>
<circle cx="340.2" cy="335.1" r="2.75"/>
<circle cx="343.7" cy="337.7" r="2.75"/>
<circle cx="332.1" cy="342.2" r="2.75"/>
<circle cx="339.8" cy="343.1" r="2.75"/>
<circle cx="337.5" cy="349.3" r="2.75"/>
<circle cx="348.4" cy="348.6" r="2.75"/>
<circle cx="350.0" cy="338.1" r="2.75"/>
<circle cx="352.6" cy="332.4" r="2.75"/>
<circle cx="353.5" cy="327.4" r="2.75"/>
<circle cx="356.2" cy="329.7" r="2.75"/>
<circle cx="337.5" cy="305.7" r="2.75"/>
<circle cx="348.2" cy="307.1" r="2.75"/>
<circle cx="349.1" cy="314.6" r="2.75"/>
<circle cx="353.5" cy="317.2" r="2.75"/>
<circle cx="358.9" cy="318.1" r="2.75"/>
<circle cx="358.0" cy="312.8" r="2.75"/>
<circle cx="331.3" cy="286.4" r="2.75"/>
<circle cx="333.0" cy="284.3" r="2.75"/>
<circle cx="341.1" cy="286.9" r="2.75"/>
<circle cx="346.4" cy="287.8" r="2.75"/>
<circle cx="351.8" cy="288.7" r="2.75"/>
<circle cx="342.8" cy="296.7" r="2.75"/>
<circle cx="346.4" cy="296.4" r="2.75"/>
<circle cx="355.3" cy="296.7" r="2.75"/>
<circle cx="354.4" cy="301.2" r="2.75"/>
<circle cx="361.6" cy="296.7" r="2.75"/>
<circle cx="365.1" cy="295.0" r="2.75"/>
<circle cx="359.8" cy="305.7" r="2.75"/>
<circle cx="362.4" cy="307.4" r="2.75"/>
<circle cx="367.8" cy="306.5" r="2.75"/>
<circle cx="366.0" cy="313.7" r="2.75"/>
<circle cx="362.4" cy="316.3" r="2.75"/>
<circle cx="368.7" cy="318.1" r="2.75"/>
<circle cx="373.1" cy="311.9" r="2.75"/>
<circle cx="377.6" cy="317.2" r="2.75"/>
<circle cx="379.4" cy="322.6" r="2.75"/>
<circle cx="375.8" cy="326.1" r="2.75"/>
<circle cx="368.7" cy="323.5" r="2.75"/>
<circle cx="364.2" cy="325.3" r="2.75"/>
<circle cx="361.6" cy="327.9" r="2.75"/>
<circle cx="369.6" cy="336.3" r="2.75"/>
<circle cx="373.7" cy="338.3" r="2.75"/>
<circle cx="382.9" cy="328.8" r="2.75"/>
<circle cx="383.8" cy="349.3" r="2.75"/>
<circle cx="368.7" cy="347.5" r="2.75"/>
<circle cx="364.2" cy="351.1" r="2.75"/>
<circle cx="358.0" cy="352.9" r="2.75"/>
<circle cx="324.1" cy="275.3" r="2.75"/>
<circle cx="334.8" cy="277.1" r="2.75"/>
<circle cx="340.2" cy="271.8" r="2.75"/>
<circle cx="345.5" cy="272.7" r="2.75"/>
<circle cx="349.1" cy="275.3" r="2.75"/>
<circle cx="354.4" cy="278.0" r="2.75"/>
<circle cx="358.0" cy="280.7" r="2.75"/>
<circle cx="370.5" cy="277.1" r="2.75"/>
<circle cx="375.8" cy="275.3" r="2.75"/>
<circle cx="379.4" cy="278.9" r="2.75"/>
<circle cx="372.3" cy="283.4" r="2.75"/>
<circle cx="376.7" cy="284.3" r="2.75"/>
<circle cx="381.2" cy="283.4" r="2.75"/>
<circle cx="374.0" cy="296.7" r="2.75"/>
<circle cx="377.6" cy="296.7" r="2.75"/>
<circle cx="381.2" cy="296.7" r="2.75"/>
<circle cx="375.8" cy="303.9" r="2.75"/>
<circle cx="379.4" cy="307.4" r="2.75"/>
<circle cx="382.9" cy="302.1" r="2.75"/>
<circle cx="372.3" cy="289.6" r="2.75"/>
<circle cx="379.4" cy="290.5" r="2.75"/>
<circle cx="383.8" cy="291.4" r="2.75"/>
<circle cx="476.2" cy="276.2" r="2.75"/>
<circle cx="483.3" cy="276.5" r="2.75"/>
<circle cx="495.3" cy="276.2" r="2.75"/>
<circle cx="519.5" cy="275.7" r="2.75"/>
<circle cx="519.5" cy="277.4" r="2.75"/>
<circle cx="537.3" cy="276.5" r="2.75"/>
<circle cx="522.5" cy="285.5" r="2.75"/>
<circle cx="486.0" cy="291.7" r="2.75"/>
<circle cx="493.1" cy="294.4" r="2.75"/>
<circle cx="485.1" cy="297.0" r="2.75"/>
<circle cx="478.9" cy="297.9" r="2.75"/>
<circle cx="478.0" cy="295.3" r="2.75"/>
<circle cx="499.4" cy="297.4" r="2.75"/>
<circle cx="502.9" cy="297.9" r="2.75"/>
<circle cx="511.0" cy="296.1" r="2.75"/>
<circle cx="516.7" cy="296.7" r="2.75"/>
<circle cx="519.5" cy="297.9" r="2.75"/>
<circle cx="504.7" cy="306.8" r="2.75"/>
<circle cx="510.1" cy="306.8" r="2.75"/>
<circle cx="486.9" cy="308.6" r="2.75"/>
<circle cx="530.6" cy="306.8" r="2.75"/>
<circle cx="551.1" cy="306.0" r="2.75"/>
<circle cx="540.9" cy="311.8" r="2.75"/>
<circle cx="552.8" cy="315.4" r="2.75"/>
<circle cx="506.0" cy="312.2" r="2.75"/>
<circle cx="492.2" cy="314.0" r="2.75"/>
<circle cx="482.4" cy="311.3" r="2.75"/>
<circle cx="508.3" cy="317.5" r="2.75"/>
<circle cx="513.6" cy="318.4" r="2.75"/>
<circle cx="518.1" cy="320.2" r="2.75"/>
<circle cx="528.8" cy="325.6" r="2.75"/>
<circle cx="477.1" cy="320.2" r="2.75"/>
<circle cx="480.6" cy="323.8" r="2.75"/>
<circle cx="487.8" cy="327.3" r="2.75"/>
<circle cx="478.9" cy="327.3" r="2.75"/>
<circle cx="493.1" cy="325.6" r="2.75"/>
<circle cx="508.2" cy="446.6" r="2.75"/>
<circle cx="551.7" cy="484.1" r="2.75"/>
<circle cx="386.3" cy="274.9" r="2.75"/>
<circle cx="388.9" cy="275.3" r="2.75"/>
<circle cx="391.0" cy="274.9" r="2.75"/>
<circle cx="394.4" cy="275.1" r="2.75"/>
<circle cx="403.3" cy="274.9" r="2.75"/>
<circle cx="406.5" cy="275.0" r="2.75"/>
<circle cx="409.4" cy="275.4" r="2.75"/>
<circle cx="413.9" cy="274.9" r="2.75"/>
<circle cx="416.3" cy="275.2" r="2.75"/>
<circle cx="418.8" cy="275.1" r="2.75"/>
<circle cx="422.8" cy="275.4" r="2.75"/>
<circle cx="427.1" cy="275.1" r="2.75"/>
<circle cx="431.5" cy="275.5" r="2.75"/>
<circle cx="433.3" cy="275.5" r="2.75"/>
<circle cx="438.9" cy="275.1" r="2.75"/>
<circle cx="442.5" cy="275.3" r="2.75"/>
<circle cx="449.5" cy="275.5" r="2.75"/>
<circle cx="458.4" cy="275.5" r="2.75"/>
<circle cx="460.1" cy="275.0" r="2.75"/>
<circle cx="462.2" cy="275.1" r="2.75"/>
<circle cx="465.2" cy="275.3" r="2.75"/>
<circle cx="470.0" cy="275.6" r="2.75"/>
<circle cx="472.1" cy="275.6" r="2.75"/>
<circle cx="476.6" cy="275.1" r="2.75"/>
<circle cx="386.2" cy="285.2" r="2.75"/>
<circle cx="389.9" cy="286.0" r="2.75"/>
<circle cx="394.0" cy="285.8" r="2.75"/>
<circle cx="396.4" cy="285.9" r="2.75"/>
<circle cx="400.2" cy="285.2" r="2.75"/>
<circle cx="403.5" cy="285.3" r="2.75"/>
<circle cx="406.0" cy="285.2" r="2.75"/>
<circle cx="408.9" cy="285.2" r="2.75"/>
<circle cx="413.1" cy="285.4" r="2.75"/>
<circle cx="416.1" cy="285.9" r="2.75"/>
<circle cx="421.6" cy="285.2" r="2.75"/>
<circle cx="423.5" cy="285.9" r="2.75"/>
<circle cx="427.1" cy="285.6" r="2.75"/>
<circle cx="428.0" cy="285.6" r="2.75"/>
<circle cx="434.0" cy="285.4" r="2.75"/>
<circle cx="437.2" cy="285.6" r="2.75"/>
<circle cx="440.6" cy="285.9" r="2.75"/>
<circle cx="461.2" cy="285.2" r="2.75"/>
<circle cx="465.1" cy="285.8" r="2.75"/>
<circle cx="475.7" cy="286.0" r="2.75"/>
<circle cx="385.9" cy="295.6" r="2.75"/>
<circle cx="389.8" cy="296.2" r="2.75"/>
<circle cx="393.3" cy="295.5" r="2.75"/>
<circle cx="401.8" cy="295.6" r="2.75"/>
<circle cx="407.0" cy="296.3" r="2.75"/>
<circle cx="410.7" cy="296.1" r="2.75"/>
<circle cx="412.2" cy="296.3" r="2.75"/>
<circle cx="418.0" cy="296.3" r="2.75"/>
<circle cx="421.9" cy="295.6" r="2.75"/>
<circle cx="428.9" cy="295.8" r="2.75"/>
<circle cx="432.8" cy="295.7" r="2.75"/>
<circle cx="436.5" cy="295.7" r="2.75"/>
<circle cx="440.5" cy="295.8" r="2.75"/>
<circle cx="444.1" cy="295.8" r="2.75"/>
<circle cx="448.7" cy="295.9" r="2.75"/>
<circle cx="450.3" cy="295.5" r="2.75"/>
<circle cx="455.6" cy="296.1" r="2.75"/>
<circle cx="459.6" cy="295.9" r="2.75"/>
<circle cx="464.4" cy="295.7" r="2.75"/>
<circle cx="467.3" cy="296.0" r="2.75"/>
<circle cx="475.6" cy="295.9" r="2.75"/>
<circle cx="387.2" cy="306.8" r="2.75"/>
<circle cx="400.7" cy="306.8" r="2.75"/>
<circle cx="406.8" cy="306.0" r="2.75"/>
<circle cx="410.1" cy="306.4" r="2.75"/>
<circle cx="427.6" cy="306.8" r="2.75"/>
<circle cx="436.5" cy="306.6" r="2.75"/>
<circle cx="439.5" cy="305.8" r="2.75"/>
<circle cx="443.7" cy="305.3" r="2.75"/>
<circle cx="448.1" cy="305.8" r="2.75"/>
<circle cx="453.9" cy="306.9" r="2.75"/>
<circle cx="463.9" cy="306.5" r="2.75"/>
<circle cx="468.7" cy="306.8" r="2.75"/>
<circle cx="475.0" cy="306.8" r="2.75"/>
<circle cx="389.2" cy="291.3" r="2.75"/>
<circle cx="397.5" cy="291.1" r="2.75"/>
<circle cx="406.6" cy="289.8" r="2.75"/>
<circle cx="415.4" cy="290.9" r="2.75"/>
<circle cx="425.1" cy="290.9" r="2.75"/>
<circle cx="430.9" cy="289.7" r="2.75"/>
<circle cx="436.6" cy="291.4" r="2.75"/>
<circle cx="391.8" cy="279.4" r="2.75"/>
<circle cx="403.9" cy="280.5" r="2.75"/>
<circle cx="415.0" cy="279.6" r="2.75"/>
<circle cx="348.7" cy="275.2" r="2.75"/>
<circle cx="354.2" cy="275.2" r="2.75"/>
<circle cx="360.4" cy="275.2" r="2.75"/>
<circle cx="364.2" cy="274.9" r="2.75"/>
<circle cx="370.5" cy="274.9" r="2.75"/>
<circle cx="383.5" cy="275.1" r="2.75"/>
<circle cx="362.4" cy="286.0" r="2.75"/>
<circle cx="369.8" cy="286.0" r="2.75"/>
<circle cx="373.8" cy="285.5" r="2.75"/>
<circle cx="379.2" cy="285.6" r="2.75"/>
<circle cx="382.1" cy="285.5" r="2.75"/>
<circle cx="371.7" cy="296.0" r="2.75"/>
<circle cx="445.1" cy="339.0" r="2.75"/>
<circle cx="410.0" cy="320.3" r="2.75"/>
<circle cx="433.0" cy="317.7" r="2.75"/>
<circle cx="400.3" cy="309.4" r="2.75"/>
<circle cx="407.2" cy="307.7" r="2.75"/>
<circle cx="402.7" cy="331.5" r="2.75"/>
<circle cx="393.3" cy="302.8" r="2.75"/>
<circle cx="429.7" cy="352.5" r="2.75"/>
<circle cx="460.1" cy="300.4" r="2.75"/>
<circle cx="424.4" cy="299.0" r="2.75"/>
<circle cx="472.5" cy="314.4" r="2.75"/>
<circle cx="438.3" cy="306.0" r="2.75"/>
<circle cx="416.6" cy="335.1" r="2.75"/>
<circle cx="378.9" cy="336.3" r="2.75"/>
<circle cx="439.1" cy="318.1" r="2.75"/>
<circle cx="413.3" cy="340.8" r="2.75"/>
<circle cx="403.6" cy="341.3" r="2.75"/>
<circle cx="453.5" cy="313.3" r="2.75"/>
<circle cx="413.0" cy="310.6" r="2.75"/>
<circle cx="472.8" cy="307.8" r="2.75"/>
<circle cx="467.4" cy="319.4" r="2.75"/>
<circle cx="468.0" cy="345.3" r="2.75"/>
<circle cx="434.1" cy="322.5" r="2.75"/>
<circle cx="392.5" cy="309.5" r="2.75"/>
<circle cx="405.1" cy="302.1" r="2.75"/>
<circle cx="397.6" cy="356.0" r="2.75"/>
<circle cx="396.5" cy="354.6" r="2.75"/>
<circle cx="463.3" cy="320.0" r="2.75"/>
<circle cx="440.6" cy="318.6" r="2.75"/>
<circle cx="430.2" cy="357.5" r="2.75"/>
<circle cx="470.2" cy="323.0" r="2.75"/>
<circle cx="392.0" cy="318.8" r="2.75"/>
<circle cx="448.8" cy="303.9" r="2.75"/>
<circle cx="445.1" cy="314.3" r="2.75"/>
<circle cx="384.1" cy="304.2" r="2.75"/>
<circle cx="413.3" cy="343.0" r="2.75"/>
<circle cx="387.7" cy="334.1" r="2.75"/>
<circle cx="443.3" cy="311.3" r="2.75"/>
<circle cx="423.3" cy="319.2" r="2.75"/>
<circle cx="456.1" cy="355.7" r="2.75"/>
<circle cx="387.7" cy="306.4" r="2.75"/>
<circle cx="378.2" cy="321.9" r="2.75"/>
<circle cx="432.5" cy="311.6" r="2.75"/>
<circle cx="391.9" cy="341.1" r="2.75"/>
<circle cx="390.0" cy="311.6" r="2.75"/>
<circle cx="419.5" cy="302.9" r="2.75"/>
<circle cx="400.4" cy="333.1" r="2.75"/>
<circle cx="402.2" cy="316.6" r="2.75"/>
<circle cx="475.6" cy="321.6" r="2.75"/>
<circle cx="442.0" cy="311.6" r="2.75"/>
<circle cx="431.1" cy="355.4" r="2.75"/>
<circle cx="428.8" cy="322.0" r="2.75"/>
<circle cx="411.3" cy="302.3" r="2.75"/>
<circle cx="454.6" cy="310.3" r="2.75"/>
<circle cx="401.0" cy="331.1" r="2.75"/>
<circle cx="429.4" cy="318.0" r="2.75"/>
<circle cx="423.8" cy="325.4" r="2.75"/>
<circle cx="406.8" cy="326.2" r="2.75"/>
<circle cx="428.4" cy="329.3" r="2.75"/>
<circle cx="373.4" cy="328.3" r="2.75"/>
<circle cx="406.2" cy="330.6" r="2.75"/>
<circle cx="430.6" cy="304.1" r="2.75"/>
<circle cx="448.2" cy="330.7" r="2.75"/>
<circle cx="442.5" cy="349.5" r="2.75"/>
<circle cx="467.3" cy="303.1" r="2.75"/>
<circle cx="385.4" cy="349.6" r="2.75"/>
<circle cx="413.8" cy="356.0" r="2.75"/>
<circle cx="417.3" cy="338.5" r="2.75"/>
<circle cx="396.0" cy="346.4" r="2.75"/>
<circle cx="373.1" cy="345.1" r="2.75"/>
<circle cx="390.1" cy="299.1" r="2.75"/>
<circle cx="415.1" cy="354.5" r="2.75"/>
<circle cx="379.4" cy="339.5" r="2.75"/>
<circle cx="395.6" cy="312.9" r="2.75"/>
<circle cx="424.6" cy="311.7" r="2.75"/>
<circle cx="410.4" cy="307.4" r="2.75"/>
<circle cx="381.4" cy="308.3" r="2.75"/>
<circle cx="401.2" cy="315.4" r="2.75"/>
<circle cx="431.6" cy="333.9" r="2.75"/>
<circle cx="407.6" cy="313.0" r="2.75"/>
<circle cx="440.0" cy="315.5" r="2.75"/>
<circle cx="378.1" cy="353.6" r="2.75"/>
<circle cx="461.0" cy="319.4" r="2.75"/>
<circle cx="389.5" cy="312.1" r="2.75"/>
<circle cx="394.1" cy="307.8" r="2.75"/>
<circle cx="438.1" cy="344.7" r="2.75"/>
<circle cx="453.4" cy="354.3" r="2.75"/>
<circle cx="386.9" cy="305.2" r="2.75"/>
<circle cx="445.7" cy="311.7" r="2.75"/>
<circle cx="404.0" cy="300.3" r="2.75"/>
<circle cx="386.3" cy="343.4" r="2.75"/>
<circle cx="457.4" cy="337.3" r="2.75"/>
<circle cx="402.6" cy="326.1" r="2.75"/>
<circle cx="378.1" cy="352.5" r="2.75"/>
<circle cx="453.5" cy="309.6" r="2.75"/>
<circle cx="450.6" cy="310.4" r="2.75"/>
<circle cx="394.4" cy="350.6" r="2.75"/>
<circle cx="469.0" cy="316.6" r="2.75"/>
<circle cx="438.4" cy="329.9" r="2.75"/>
<circle cx="430.6" cy="304.0" r="2.75"/>
<circle cx="395.5" cy="323.9" r="2.75"/>
<circle cx="431.8" cy="320.6" r="2.75"/>
<circle cx="443.7" cy="309.5" r="2.75"/>
<circle cx="447.7" cy="334.9" r="2.75"/>
<circle cx="408.8" cy="353.9" r="2.75"/>
<circle cx="456.5" cy="308.6" r="2.75"/>
<circle cx="472.9" cy="344.2" r="2.75"/>
<circle cx="405.4" cy="311.2" r="2.75"/>
<circle cx="408.9" cy="307.8" r="2.75"/>
<circle cx="403.6" cy="313.2" r="2.75"/>
<circle cx="407.7" cy="318.4" r="2.75"/>
<circle cx="440.1" cy="338.0" r="2.75"/>
<circle cx="403.9" cy="327.2" r="2.75"/>
<circle cx="454.6" cy="331.3" r="2.75"/>
<circle cx="400.1" cy="346.3" r="2.75"/>
<circle cx="474.1" cy="321.0" r="2.75"/>
<circle cx="385.3" cy="323.8" r="2.75"/>
<circle cx="403.3" cy="325.1" r="2.75"/>
<circle cx="395.0" cy="315.4" r="2.75"/>
<circle cx="453.0" cy="328.0" r="2.75"/>
<circle cx="419.5" cy="306.8" r="2.75"/>
<circle cx="395.3" cy="351.7" r="2.75"/>
<circle cx="398.0" cy="314.7" r="2.75"/>
<circle cx="386.2" cy="314.2" r="2.75"/>
<circle cx="410.9" cy="325.6" r="2.75"/>
<circle cx="464.2" cy="347.6" r="2.75"/>
<circle cx="454.9" cy="338.3" r="2.75"/>
<circle cx="382.3" cy="305.3" r="2.75"/>
<circle cx="449.5" cy="351.0" r="2.75"/>
<circle cx="384.1" cy="313.5" r="2.75"/>
<circle cx="412.6" cy="302.6" r="2.75"/>
<circle cx="418.4" cy="352.5" r="2.75"/>
<circle cx="403.4" cy="358.6" r="2.75"/>
<circle cx="430.6" cy="338.4" r="2.75"/>
<circle cx="411.6" cy="354.6" r="2.75"/>
<circle cx="440.8" cy="337.8" r="2.75"/>
<circle cx="416.7" cy="346.8" r="2.75"/>
<circle cx="405.4" cy="325.2" r="2.75"/>
<circle cx="401.5" cy="330.2" r="2.75"/>
<circle cx="450.0" cy="319.5" r="2.75"/>
<circle cx="461.7" cy="332.8" r="2.75"/>
<circle cx="388.6" cy="299.4" r="2.75"/>
<circle cx="425.5" cy="341.2" r="2.75"/>
<circle cx="363.7" cy="310.2" r="2.75"/>
<circle cx="421.3" cy="315.0" r="2.75"/>
<circle cx="403.7" cy="318.7" r="2.75"/>
<circle cx="431.2" cy="356.9" r="2.75"/>
<circle cx="421.9" cy="301.4" r="2.75"/>
<circle cx="406.8" cy="299.9" r="2.75"/>
<circle cx="410.4" cy="324.6" r="2.75"/>
<circle cx="431.6" cy="312.2" r="2.75"/>
<circle cx="459.7" cy="307.0" r="2.75"/>
<circle cx="408.6" cy="356.8" r="2.75"/>
<circle cx="471.5" cy="343.5" r="2.75"/>
<circle cx="405.8" cy="341.0" r="2.75"/>
<circle cx="429.7" cy="324.9" r="2.75"/>
<circle cx="421.9" cy="317.1" r="2.75"/>
<circle cx="454.9" cy="336.3" r="2.75"/>
<circle cx="451.9" cy="316.6" r="2.75"/>
<circle cx="453.0" cy="354.0" r="2.75"/>
<circle cx="422.5" cy="316.0" r="2.75"/>
<circle cx="394.4" cy="304.3" r="2.75"/>
<circle cx="435.7" cy="327.9" r="2.75"/>
<circle cx="408.5" cy="304.4" r="2.75"/>
<circle cx="447.5" cy="313.4" r="2.75"/>
<circle cx="410.6" cy="335.5" r="2.75"/>
<circle cx="396.4" cy="334.0" r="2.75"/>
<circle cx="415.7" cy="308.2" r="2.75"/>
<circle cx="475.6" cy="322.2" r="2.75"/>
<circle cx="430.1" cy="347.8" r="2.75"/>
<circle cx="425.7" cy="320.4" r="2.75"/>
<circle cx="471.4" cy="314.7" r="2.75"/>
<circle cx="376.1" cy="310.2" r="2.75"/>
<circle cx="434.7" cy="323.4" r="2.75"/>
<circle cx="378.7" cy="301.4" r="2.75"/>
<circle cx="424.9" cy="346.0" r="2.75"/>
<circle cx="391.5" cy="314.9" r="2.75"/>
<circle cx="411.2" cy="309.5" r="2.75"/>
<circle cx="368.9" cy="341.0" r="2.75"/>
<circle cx="440.7" cy="311.1" r="2.75"/>
<circle cx="459.3" cy="354.1" r="2.75"/>
<circle cx="406.9" cy="305.0" r="2.75"/>
<circle cx="429.5" cy="307.9" r="2.75"/>
<circle cx="402.5" cy="308.7" r="2.75"/>
<circle cx="455.9" cy="319.7" r="2.75"/>
<circle cx="462.9" cy="340.4" r="2.75"/>
<circle cx="410.7" cy="316.7" r="2.75"/>
<circle cx="475.8" cy="356.4" r="2.75"/>
<circle cx="387.2" cy="354.6" r="2.75"/>
<circle cx="416.8" cy="310.5" r="2.75"/>
<circle cx="440.0" cy="311.2" r="2.75"/>
<circle cx="385.2" cy="311.8" r="2.75"/>
<circle cx="402.0" cy="343.7" r="2.75"/>
<circle cx="459.1" cy="329.6" r="2.75"/>
<circle cx="396.9" cy="309.1" r="2.75"/>
<circle cx="385.3" cy="300.8" r="2.75"/>
<circle cx="365.8" cy="291.6" r="2.75"/>
<circle cx="385.3" cy="295.3" r="2.75"/>
<circle cx="376.4" cy="283.3" r="2.75"/>
<circle cx="394.0" cy="284.5" r="2.75"/>
<circle cx="387.5" cy="279.8" r="2.75"/>
<circle cx="382.4" cy="303.4" r="2.75"/>
<circle cx="372.3" cy="299.8" r="2.75"/>
<circle cx="384.2" cy="293.7" r="2.75"/>
<circle cx="385.1" cy="291.0" r="2.75"/>
<circle cx="359.0" cy="278.0" r="2.75"/>
<circle cx="396.2" cy="284.7" r="2.75"/>
<circle cx="373.6" cy="284.8" r="2.75"/>
<circle cx="368.2" cy="293.4" r="2.75"/>
<circle cx="378.8" cy="291.1" r="2.75"/>
<circle cx="383.3" cy="276.9" r="2.75"/>
<circle cx="383.6" cy="286.0" r="2.75"/>
<circle cx="367.9" cy="281.5" r="2.75"/>
<circle cx="363.5" cy="301.1" r="2.75"/>
<circle cx="381.6" cy="289.7" r="2.75"/>
<circle cx="371.2" cy="291.4" r="2.75"/>
<circle cx="369.1" cy="287.1" r="2.75"/>
<circle cx="401.3" cy="288.2" r="2.75"/>
<circle cx="372.9" cy="288.0" r="2.75"/>
<circle cx="382.9" cy="284.6" r="2.75"/>
<circle cx="343.4" cy="234.0" r="2.75"/>
<circle cx="423.5" cy="233.7" r="2.75"/>
<circle cx="386.8" cy="233.9" r="2.75"/>
<circle cx="393.9" cy="233.8" r="2.75"/>
<circle cx="391.9" cy="233.6" r="2.75"/>
<circle cx="332.1" cy="233.9" r="2.75"/>
<circle cx="354.1" cy="234.1" r="2.75"/>
<circle cx="354.8" cy="234.1" r="2.75"/>
<circle cx="354.7" cy="233.7" r="2.75"/>
<circle cx="383.7" cy="233.8" r="2.75"/>
<circle cx="366.3" cy="234.1" r="2.75"/>
<circle cx="352.3" cy="234.0" r="2.75"/>
<circle cx="427.7" cy="233.9" r="2.75"/>
<circle cx="386.9" cy="234.2" r="2.75"/>
<circle cx="409.8" cy="244.0" r="2.75"/>
<circle cx="328.6" cy="243.9" r="2.75"/>
<circle cx="368.4" cy="244.0" r="2.75"/>
<circle cx="416.6" cy="244.2" r="2.75"/>
<circle cx="364.9" cy="244.2" r="2.75"/>
<circle cx="460.4" cy="244.0" r="2.75"/>
<circle cx="341.5" cy="244.1" r="2.75"/>
<circle cx="367.3" cy="244.4" r="2.75"/>
<circle cx="425.3" cy="244.2" r="2.75"/>
<circle cx="343.2" cy="243.9" r="2.75"/>
<circle cx="336.6" cy="244.4" r="2.75"/>
<circle cx="416.5" cy="244.0" r="2.75"/>
<circle cx="413.0" cy="243.9" r="2.75"/>
<circle cx="395.0" cy="244.1" r="2.75"/>
<circle cx="333.6" cy="244.3" r="2.75"/>
<circle cx="426.9" cy="244.2" r="2.75"/>
<circle cx="343.6" cy="244.3" r="2.75"/>
<circle cx="383.9" cy="244.3" r="2.75"/>
<circle cx="341.7" cy="254.9" r="2.75"/>
<circle cx="328.5" cy="254.5" r="2.75"/>
<circle cx="387.8" cy="254.5" r="2.75"/>
<circle cx="341.2" cy="254.8" r="2.75"/>
<circle cx="477.1" cy="254.6" r="2.75"/>
<circle cx="367.9" cy="254.8" r="2.75"/>
<circle cx="361.4" cy="254.6" r="2.75"/>
<circle cx="431.3" cy="254.7" r="2.75"/>
<circle cx="351.4" cy="254.4" r="2.75"/>
<circle cx="409.5" cy="255.0" r="2.75"/>
<circle cx="466.0" cy="254.5" r="2.75"/>
<circle cx="403.3" cy="254.7" r="2.75"/>
<circle cx="357.1" cy="254.8" r="2.75"/>
<circle cx="402.3" cy="254.9" r="2.75"/>
<circle cx="371.8" cy="255.0" r="2.75"/>
<circle cx="450.2" cy="254.7" r="2.75"/>
<circle cx="349.2" cy="254.7" r="2.75"/>
<circle cx="347.1" cy="254.8" r="2.75"/>
<circle cx="423.3" cy="265.0" r="2.75"/>
<circle cx="462.7" cy="264.7" r="2.75"/>
<circle cx="425.9" cy="265.2" r="2.75"/>
<circle cx="340.9" cy="264.9" r="2.75"/>
<circle cx="332.6" cy="265.0" r="2.75"/>
<circle cx="426.9" cy="264.9" r="2.75"/>
<circle cx="423.1" cy="264.9" r="2.75"/>
<circle cx="425.4" cy="264.9" r="2.75"/>
<circle cx="462.9" cy="265.0" r="2.75"/>
<circle cx="325.5" cy="264.8" r="2.75"/>
<circle cx="427.4" cy="265.2" r="2.75"/>
<circle cx="414.8" cy="264.8" r="2.75"/>
<circle cx="448.0" cy="265.1" r="2.75"/>
<circle cx="341.2" cy="264.9" r="2.75"/>
<circle cx="419.7" cy="264.7" r="2.75"/>
<circle cx="331.0" cy="264.9" r="2.75"/>
</g>
<g fill="none" stroke-width="3.7" stroke-linecap="square">
<line x1="119.1" y1="223.7" x2="649.5" y2="364.6" stroke="#6ec273"/>
<line x1="164.3" y1="214.1" x2="566" y2="339.4" stroke="#c7acd3"/>
<line x1="119.1" y1="210.3" x2="649.5" y2="365.7" stroke="#3f63dd"/>
</g>
<g stroke="#262626" stroke-width="1.4" fill="none">
<path d="M93.4,36 V505.6 H676"/>
<path d="M178.2,505.6 v6.2" stroke-width="1.4"/>
<path d="M285.3,505.6 v6.2" stroke-width="1.4"/>
<path d="M392.4,505.6 v6.2" stroke-width="1.4"/>
<path d="M499.6,505.6 v6.2" stroke-width="1.4"/>
<path d="M606.7,505.6 v6.2" stroke-width="1.4"/>
<path d="M93.4,49.2 h-6.2" stroke-width="1.4"/>
<path d="M93.4,152 h-6.2" stroke-width="1.4"/>
<path d="M93.4,254.7 h-6.2" stroke-width="1.4"/>
<path d="M93.4,357.5 h-6.2" stroke-width="1.4"/>
<path d="M93.4,460.2 h-6.2" stroke-width="1.4"/>
</g>
<g font-family="'Liberation Sans', sans-serif" font-size="18.6" fill="#1c1c1c" stroke="#1c1c1c" stroke-width="0.2">
<text y="531.0"><tspan x="160.0" textLength="13.4" lengthAdjust="spacingAndGlyphs">−</tspan><tspan x="174.2" textLength="23.0" lengthAdjust="spacingAndGlyphs">10</tspan></text>
<text x="285.3" y="531.0" text-anchor="middle" textLength="11.5" lengthAdjust="spacingAndGlyphs">0</text>
<text x="392.4" y="531.0" text-anchor="middle" textLength="23.0" lengthAdjust="spacingAndGlyphs">10</text>
<text x="499.6" y="531.0" text-anchor="middle" textLength="23.0" lengthAdjust="spacingAndGlyphs">20</text>
<text x="606.7" y="531.0" text-anchor="middle" textLength="23.0" lengthAdjust="spacingAndGlyphs">30</text>
<text x="81.4" y="56.0" text-anchor="end" textLength="40.2" lengthAdjust="spacingAndGlyphs">0.04</text>
<text x="81.4" y="158.8" text-anchor="end" textLength="40.2" lengthAdjust="spacingAndGlyphs">0.02</text>
<text x="81.4" y="261.5" text-anchor="end" textLength="40.2" lengthAdjust="spacingAndGlyphs">0.00</text>
<text y="364.3"><tspan x="27.0" textLength="13.4" lengthAdjust="spacingAndGlyphs">−</tspan><tspan x="41.2" textLength="40.2" lengthAdjust="spacingAndGlyphs">0.02</tspan></text>
<text y="467.0"><tspan x="27.0" textLength="13.4" lengthAdjust="spacingAndGlyphs">−</tspan><tspan x="41.2" textLength="40.2" lengthAdjust="spacingAndGlyphs">0.04</tspan></text>
</g>
<g font-family="'Liberation Sans', sans-serif" fill="#1c1c1c" stroke="#1c1c1c" stroke-width="0.15">
<text y="556.0" font-size="19.9"><tspan x="304.2" textLength="159.7" lengthAdjust="spacingAndGlyphs">angle-ca-plantar</tspan></text>
<text transform="translate(16.6,399.8) rotate(-90)" font-size="19.6"><tspan x="-1.6" textLength="108.2" lengthAdjust="spacingAndGlyphs">normalized</tspan> <tspan x="112.8" textLength="55.5" lengthAdjust="spacingAndGlyphs">ca-fm</tspan> <tspan x="174.5" textLength="47.5" lengthAdjust="spacingAndGlyphs">PSTT</tspan> <tspan x="228.2" textLength="31.2" lengthAdjust="spacingAndGlyphs">diff</tspan></text>
<text y="17.3" font-size="21.7"><tspan x="-0.2" textLength="115.9" lengthAdjust="spacingAndGlyphs">Correlation</tspan> <tspan x="122.3" textLength="90.9" lengthAdjust="spacingAndGlyphs">between</tspan> <tspan x="219.9" textLength="173.0" lengthAdjust="spacingAndGlyphs">angle-ca-plantar</tspan> <tspan x="399.7" textLength="39.5" lengthAdjust="spacingAndGlyphs">and</tspan> <tspan x="446.5" textLength="59.9" lengthAdjust="spacingAndGlyphs">ca-fm</tspan> <tspan x="512.8" textLength="51.3" lengthAdjust="spacingAndGlyphs">PSTT</tspan> <tspan x="571.3" textLength="33.6" lengthAdjust="spacingAndGlyphs">diff</tspan> <tspan x="611.8" textLength="25.8" lengthAdjust="spacingAndGlyphs">by</tspan> <tspan x="644.4" textLength="38.3" lengthAdjust="spacingAndGlyphs">Sex</tspan></text>
</g>
<rect x="594.8" y="44.3" width="72.9" height="78.4" rx="3" ry="3" fill="#fff" fill-opacity="0.8" stroke="#cccccc" stroke-width="1.2"/>
<g font-family="'Liberation Sans', sans-serif" font-size="17.2" fill="#1c1c1c" stroke="#1c1c1c" stroke-width="0.2">
<text x="616.6" y="63.6" textLength="29.6" lengthAdjust="spacingAndGlyphs">Sex</text>
<text x="648.0" y="88.1" textLength="13.4" lengthAdjust="spacingAndGlyphs">M</text>
<text x="648.0" y="112.6" textLength="8.8" lengthAdjust="spacingAndGlyphs">F</text>
</g>
<circle cx="618.1" cy="83.8" r="2.9" fill="#6ec273" fill-opacity="0.75" stroke="#6ec273" stroke-opacity="0.75" stroke-width="1.2"/>
<circle cx="618.1" cy="108.4" r="2.9" fill="#c7acd3" fill-opacity="0.75" stroke="#c7acd3" stroke-opacity="0.75" stroke-width="1.2"/>
<rect x="105.7" y="426.7" width="236.0" height="72.7" fill="#fff" stroke="#262626" stroke-width="1.2"/>
<text font-family="'Liberation Serif', serif" font-size="18.3" fill="#2048ea" stroke="#2048ea" stroke-width="0.25"><tspan x="112.6" y="447.6">r</tspan><tspan x="118.1" y="451.8" font-size="12.8" font-style="italic" textLength="33.8" lengthAdjust="spacingAndGlyphs">overall</tspan> <tspan x="156.5" y="447.6">=</tspan> <tspan x="171.4" y="447.6" textLength="50.6" lengthAdjust="spacingAndGlyphs">-0.375,</tspan> <tspan x="231.6" y="447.6">p</tspan><tspan x="240.6" y="451.8" font-size="12.8" font-style="italic" textLength="33.6" lengthAdjust="spacingAndGlyphs">overall</tspan> <tspan x="278.9" y="447.6">=</tspan> <tspan x="293.3" y="447.6" textLength="22.6" lengthAdjust="spacingAndGlyphs">0.0</tspan></text>
<text font-family="'Liberation Serif', serif" font-size="18.3" fill="#6ec273" stroke="#6ec273" stroke-width="0.25"><tspan x="112.6" y="469.2">r</tspan><tspan x="118.7" y="473.4" font-size="12.8" font-style="italic" textLength="27.5" lengthAdjust="spacingAndGlyphs">males</tspan> <tspan x="150.8" y="469.2">=</tspan> <tspan x="165.7" y="469.2" textLength="50.9" lengthAdjust="spacingAndGlyphs">-0.376,</tspan> <tspan x="225.9" y="469.2">p</tspan><tspan x="234.9" y="473.4" font-size="12.8" font-style="italic" textLength="27.2" lengthAdjust="spacingAndGlyphs">males</tspan> <tspan x="267.0" y="469.2">=</tspan> <tspan x="281.4" y="469.2" textLength="22.6" lengthAdjust="spacingAndGlyphs">0.0</tspan></text>
<text font-family="'Liberation Serif', serif" font-size="18.3" fill="#d0bbdc" stroke="#d0bbdc" stroke-width="0.25"><tspan x="112.6" y="490.9">r</tspan><tspan x="117.4" y="495.1" font-size="12.8" font-style="italic" textLength="37.4" lengthAdjust="spacingAndGlyphs">females</tspan> <tspan x="162.2" y="490.9">=</tspan> <tspan x="177.0" y="490.9" textLength="51.1" lengthAdjust="spacingAndGlyphs">-0.354,</tspan> <tspan x="237.3" y="490.9">p</tspan><tspan x="245.4" y="495.1" font-size="12.8" font-style="italic" textLength="37.0" lengthAdjust="spacingAndGlyphs">females</tspan> <tspan x="286.9" y="490.9">=</tspan> <tspan x="301.9" y="490.9" textLength="22.6" lengthAdjust="spacingAndGlyphs">0.0</tspan></text>
</svg>
</body></html>
